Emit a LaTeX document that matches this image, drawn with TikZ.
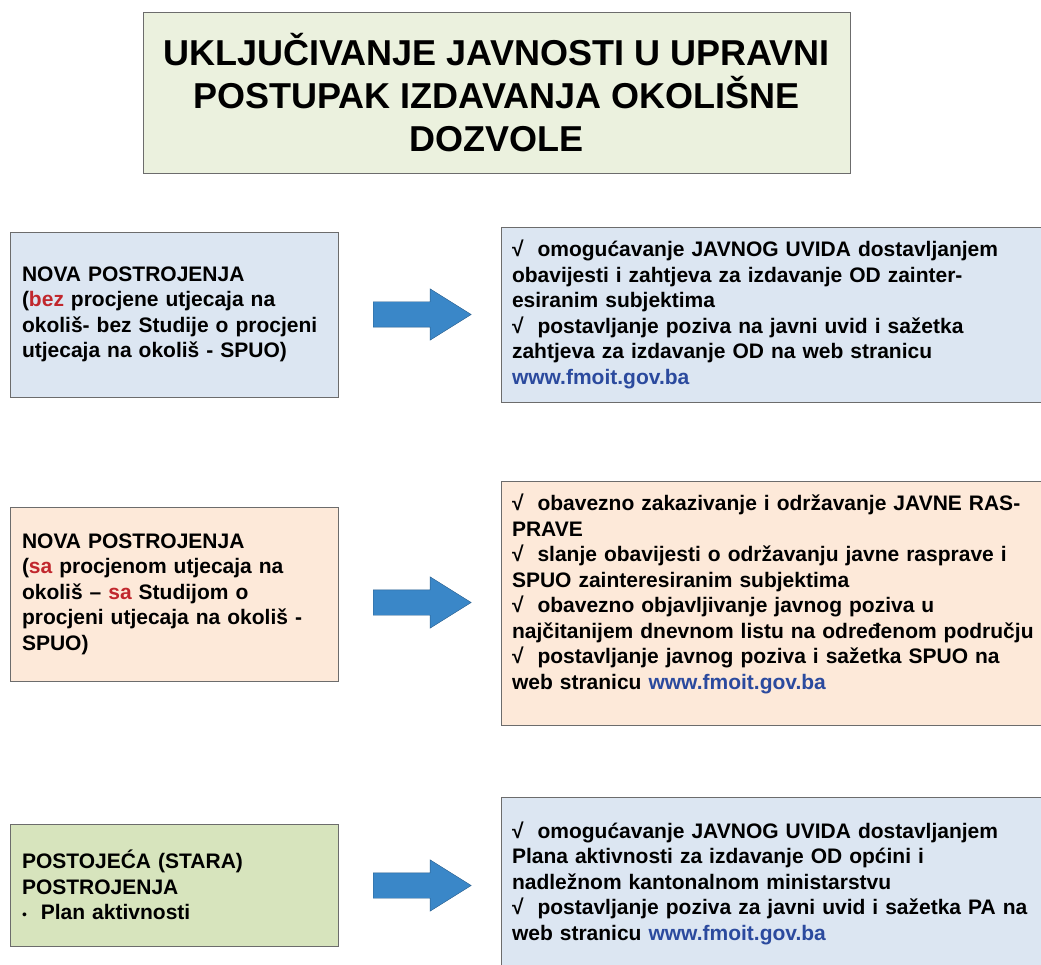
\documentclass[tikz,border=0pt]{standalone}
\usepackage{fontspec}
\setmainfont{Liberation Sans}
\usetikzlibrary{shapes.arrows}
\definecolor{zelenkasta}{HTML}{EBF1DE}
\definecolor{plava}{HTML}{DCE6F2}
\definecolor{breskva}{HTML}{FDE9D9}
\definecolor{zelena}{HTML}{D7E4BD}
\definecolor{strelboja}{HTML}{3A87C8}
\definecolor{crvena}{HTML}{C1272D}
\definecolor{poveznica}{HTML}{2B4A9E}
\newcommand{\web}{\textcolor{poveznica}{www.fmoit.gov.ba}}
\begin{document}
\begin{tikzpicture}[x=1pt,y=-1pt,
    okvir/.style={draw=gray!85!black,line width=0.9pt,align=left,
      font=\bfseries\fontsize{21}{25.5}\selectfont},
    lijevo/.style={okvir,minimum width=328pt,text width=304pt,inner xsep=12pt},
    desno/.style={okvir,minimum width=544pt,text width=522pt,inner xsep=11pt},
    strel/.style={single arrow,draw=strelboja!70!black,fill=strelboja,inner xsep=0pt,inner ysep=12.5pt,
      minimum height=98pt,minimum width=51pt,single arrow head extend=13pt,
      single arrow tip angle=64,anchor=tail}]
  \useasboundingbox(0,0)rectangle(1041,965);
  \node[draw=gray!85!black,line width=0.9pt,fill=zelenkasta,minimum width=707pt,minimum height=161pt,
    align=center,font=\bfseries\fontsize{36}{43}\selectfont](naslov)at(496.5,92.5)
    {UKLJUČIVANJE JAVNOSTI U UPRAVNI\\POSTUPAK IZDAVANJA OKOLIŠNE\\DOZVOLE};%naslov
  % prvi red
  \node[lijevo,fill=plava,minimum height=165pt](lijevi1)at(174,314.5)
    {NOVA POSTROJENJA\\(\textcolor{crvena}{bez} procjene utjecaja na\\okoliš- bez Studije o procjeni\\utjecaja na okoliš - SPUO)};
  \node[strel](strelica1)at(373,314.5){};
  \node[desno,fill=plava,minimum height=175pt](desni1)at(773,314.5)
    {√\ \ omogućavanje JAVNOG UVIDA dostavljanjem\\obavijesti i zahtjeva za izdavanje OD zainter-\\esiranim subjektima\\√\ \ postavljanje poziva na javni uvid i sažetka\\zahtjeva za izdavanje OD na web stranicu\\\web};
  % drugi red
  \node[lijevo,fill=breskva,minimum height=174pt](lijevi2)at(174,594)
    {NOVA POSTROJENJA\\(\textcolor{crvena}{sa} procjenom utjecaja na\\okoliš – \textcolor{crvena}{sa} Studijom o\\procjeni utjecaja na okoliš -\\SPUO)};
  \node[strel](strelica2)at(373,602.5){};
  \node[desno,fill=breskva,minimum height=244pt,execute at end node={\par\vspace*{18pt}}](desni2)at(773,603)
    {√\ \ obavezno zakazivanje i održavanje JAVNE RAS-\\PRAVE\\√\ \ slanje obavijesti o održavanju javne rasprave i\\SPUO zainteresiranim subjektima\\√\ \ obavezno objavljivanje javnog poziva u\\najčitanijem dnevnom listu na određenom području\\√\ \ postavljanje javnog poziva i sažetka SPUO na\\web stranicu \web};
  % treći red
  \node[lijevo,fill=zelena,minimum height=122pt](lijevi3)at(174,885)
    {POSTOJEĆA (STARA)\\POSTROJENJA\\{\mdseries\fontsize{14}{25.5}\selectfont•}\ \ Plan aktivnosti};
  \node[strel](strelica3)at(373,885.5){};
  \node[desno,fill=plava,minimum height=172pt](desni3)at(773,883)
    {√\ \ omogućavanje JAVNOG UVIDA dostavljanjem\\Plana aktivnosti za izdavanje OD općini i\\nadležnom kantonalnom ministarstvu\\√\ \ postavljanje poziva za javni uvid i sažetka PA na\\web stranicu \web};
\end{tikzpicture}
\end{document}
